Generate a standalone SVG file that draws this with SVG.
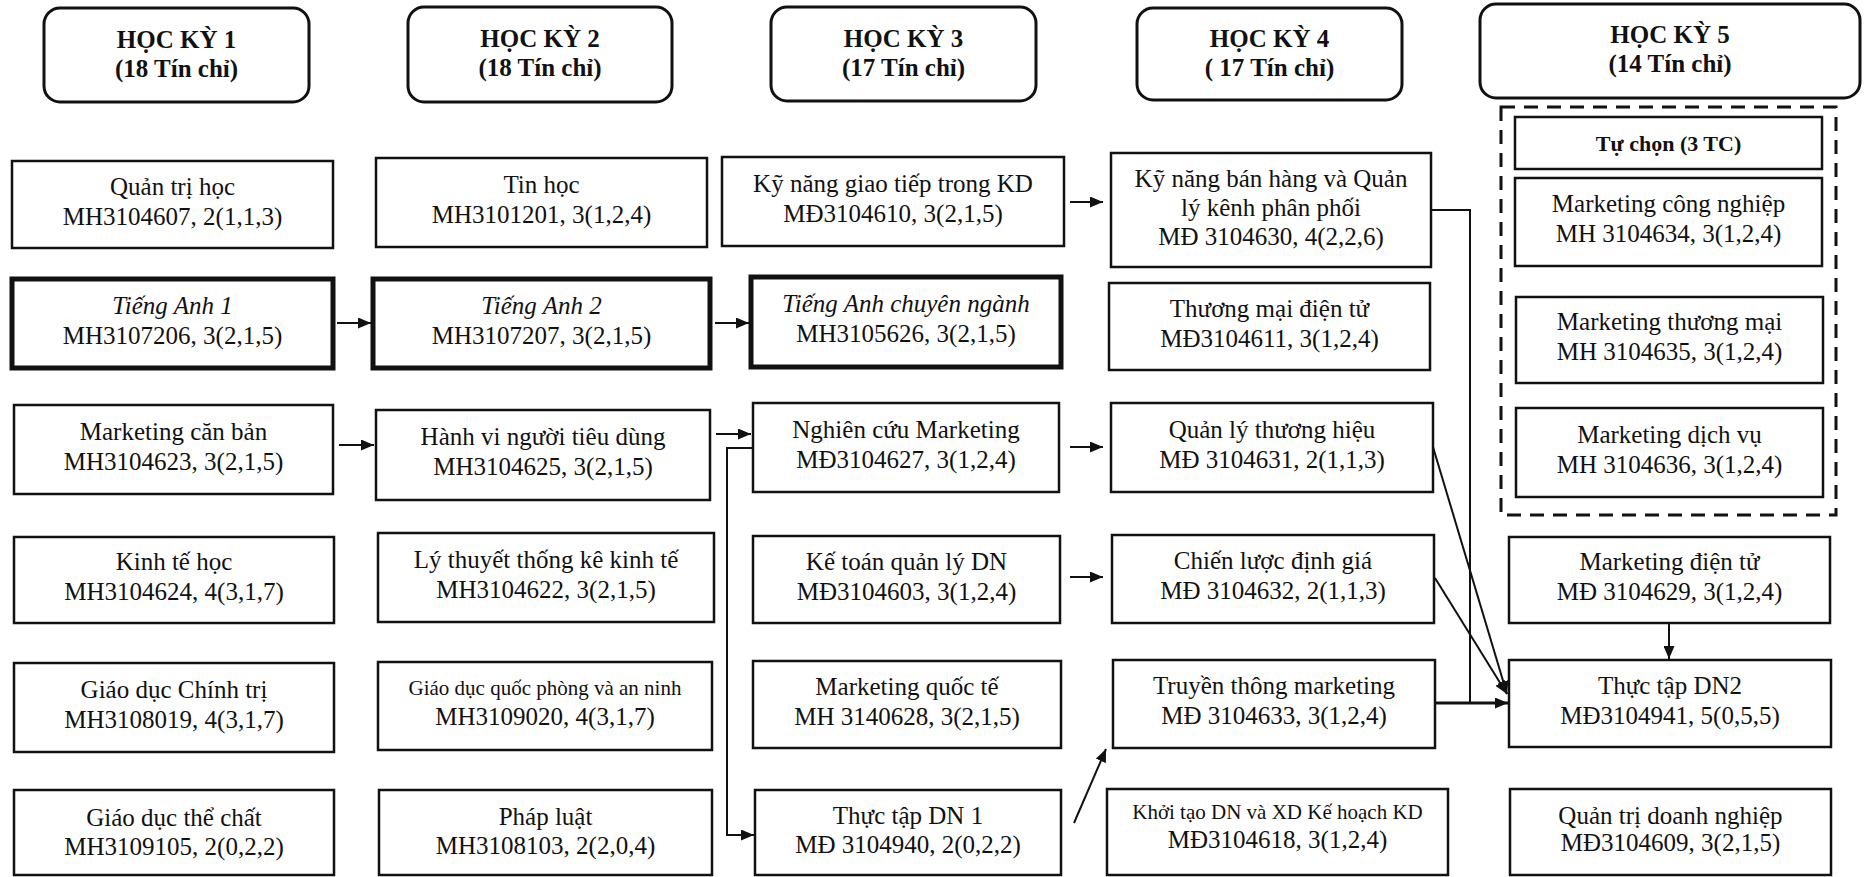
<svg xmlns="http://www.w3.org/2000/svg" width="1866" height="877" viewBox="0 0 1866 877">
<defs>
<style>
.hdr{fill:#fff;stroke:#111;stroke-width:3}
.box{fill:#fff;stroke:#111;stroke-width:2.5}
.thick{stroke-width:5}
.dash{fill:none;stroke:#111;stroke-width:3;stroke-dasharray:14 9}
.t{font-family:"Liberation Serif","Times New Roman",serif;font-size:25px;text-anchor:middle;fill:#111}
.b{font-weight:bold}
.i{font-style:italic}
.sm{font-size:21px}
.hb{font-size:22px;font-weight:bold}
.conn{stroke:#111;stroke-width:2;fill:none}
.heavy{stroke-width:3}
</style>
<marker id="ah" viewBox="0 0 13 11" refX="13" refY="5.5" markerWidth="13" markerHeight="11" markerUnits="userSpaceOnUse" orient="auto">
<path d="M0,0 L13,5.5 L0,11 z" fill="#111"/>
</marker>
</defs>
<rect x="0" y="0" width="1866" height="877" fill="#fff"/>

<g id="headers">
<g id="hk1"><rect class="hdr" x="44" y="8" width="265" height="94" rx="16"/><text class="t b" x="176.5" y="48">HỌC KỲ 1</text><text class="t b" x="176.5" y="77">(18 Tín chỉ)</text></g>
<g id="hk2"><rect class="hdr" x="408" y="7" width="264" height="95" rx="16"/><text class="t b" x="540" y="47">HỌC KỲ 2</text><text class="t b" x="540" y="76">(18 Tín chỉ)</text></g>
<g id="hk3"><rect class="hdr" x="771" y="7" width="265" height="94" rx="16"/><text class="t b" x="903.5" y="47">HỌC KỲ 3</text><text class="t b" x="903.5" y="76">(17 Tín chỉ)</text></g>
<g id="hk4"><rect class="hdr" x="1137" y="8" width="265" height="92" rx="16"/><text class="t b" x="1269.5" y="47">HỌC KỲ 4</text><text class="t b" x="1269.5" y="76">( 17 Tín chỉ)</text></g>
<g id="hk5"><rect class="hdr" x="1480" y="4" width="380" height="94" rx="16"/><text class="t b" x="1670" y="43">HỌC KỲ 5</text><text class="t b" x="1670" y="72">(14 Tín chỉ)</text></g>
</g>

<g id="col1">
<g id="quan-tri-hoc"><rect class="box" x="12" y="161" width="321" height="87"/><text class="t" x="172.5" y="194.5">Quản trị học</text><text class="t" x="172.5" y="224.5">MH3104607, 2(1,1,3)</text></g>
<g id="tieng-anh-1"><rect class="box thick" x="12" y="279" width="321" height="89"/><text class="t i" x="172.5" y="313.5">Tiếng Anh 1</text><text class="t" x="172.5" y="343.5">MH3107206, 3(2,1,5)</text></g>
<g id="marketing-can-ban"><rect class="box" x="14" y="405" width="319" height="89"/><text class="t" x="173.5" y="439.5">Marketing căn bản</text><text class="t" x="173.5" y="469.5">MH3104623, 3(2,1,5)</text></g>
<g id="kinh-te-hoc"><rect class="box" x="14" y="537" width="320" height="86"/><text class="t" x="174" y="570">Kinh tế học</text><text class="t" x="174" y="600">MH3104624, 4(3,1,7)</text></g>
<g id="gd-chinh-tri"><rect class="box" x="14" y="663" width="320" height="89"/><text class="t" x="174" y="697.5">Giáo dục Chính trị</text><text class="t" x="174" y="727.5">MH3108019, 4(3,1,7)</text></g>
<g id="gd-the-chat"><rect class="box" x="14" y="790" width="320" height="85"/><text class="t" x="174" y="826">Giáo dục thể chất</text><text class="t" x="174" y="855">MH3109105, 2(0,2,2)</text></g>
</g>

<g id="col2">
<g id="tin-hoc"><rect class="box" x="376" y="158" width="331" height="89"/><text class="t" x="541.5" y="192.5">Tin học</text><text class="t" x="541.5" y="222.5">MH3101201, 3(1,2,4)</text></g>
<g id="tieng-anh-2"><rect class="box thick" x="373" y="279" width="337" height="89"/><text class="t i" x="541.5" y="313.5">Tiếng Anh 2</text><text class="t" x="541.5" y="343.5">MH3107207, 3(2,1,5)</text></g>
<g id="hanh-vi"><rect class="box" x="376" y="410" width="334" height="90"/><text class="t" x="543" y="445">Hành vi người tiêu dùng</text><text class="t" x="543" y="475">MH3104625, 3(2,1,5)</text></g>
<g id="ly-thuyet"><rect class="box" x="378" y="533" width="336" height="89"/><text class="t" x="546" y="567.5">Lý thuyết thống kê kinh tế</text><text class="t" x="546" y="597.5">MH3104622, 3(2,1,5)</text></g>
<g id="gdqp"><rect class="box" x="378" y="662" width="334" height="88"/><text class="t sm" x="545" y="695">Giáo dục quốc phòng và an ninh</text><text class="t" x="545" y="725">MH3109020, 4(3,1,7)</text></g>
<g id="phap-luat"><rect class="box" x="379" y="790" width="333" height="85"/><text class="t" x="545.5" y="825">Pháp luật</text><text class="t" x="545.5" y="854">MH3108103, 2(2,0,4)</text></g>
</g>

<g id="col3">
<g id="ky-nang-giao-tiep"><rect class="box" x="722" y="157" width="342" height="89"/><text class="t" x="893" y="191.5">Kỹ năng giao tiếp trong KD</text><text class="t" x="893" y="221.5">MĐ3104610, 3(2,1,5)</text></g>
<g id="tieng-anh-cn"><rect class="box thick" x="751" y="277" width="310" height="90"/><text class="t i" x="906" y="312">Tiếng Anh chuyên ngành</text><text class="t" x="906" y="342">MH3105626, 3(2,1,5)</text></g>
<g id="nghien-cuu"><rect class="box" x="753" y="403" width="306" height="89"/><text class="t" x="906" y="437.5">Nghiên cứu Marketing</text><text class="t" x="906" y="467.5">MĐ3104627, 3(1,2,4)</text></g>
<g id="ke-toan"><rect class="box" x="753" y="536" width="307" height="87"/><text class="t" x="906.5" y="569.5">Kế toán quản lý DN</text><text class="t" x="906.5" y="599.5">MĐ3104603, 3(1,2,4)</text></g>
<g id="marketing-quoc-te"><rect class="box" x="753" y="661" width="308" height="87"/><text class="t" x="907" y="694.5">Marketing quốc tế</text><text class="t" x="907" y="724.5">MH 3140628, 3(2,1,5)</text></g>
<g id="thuc-tap-dn1"><rect class="box" x="755" y="790" width="306" height="85"/><text class="t" x="908" y="824">Thực tập DN 1</text><text class="t" x="908" y="853">MĐ 3104940, 2(0,2,2)</text></g>
</g>

<g id="col4">
<g id="ky-nang-ban-hang"><rect class="box" x="1111" y="153" width="320" height="114"/><text class="t" x="1271" y="187">Kỹ năng bán hàng và Quản</text><text class="t" x="1271" y="216">lý kênh phân phối</text><text class="t" x="1271" y="245">MĐ 3104630, 4(2,2,6)</text></g>
<g id="thuong-mai-dien-tu"><rect class="box" x="1109" y="283" width="321" height="87"/><text class="t" x="1269.5" y="316.5">Thương mại điện tử</text><text class="t" x="1269.5" y="346.5">MĐ3104611, 3(1,2,4)</text></g>
<g id="quan-ly-thuong-hieu"><rect class="box" x="1111" y="403" width="322" height="89"/><text class="t" x="1272" y="437.5">Quản lý thương hiệu</text><text class="t" x="1272" y="467.5">MĐ 3104631, 2(1,1,3)</text></g>
<g id="chien-luoc-dinh-gia"><rect class="box" x="1112" y="535" width="322" height="88"/><text class="t" x="1273" y="569">Chiến lược định giá</text><text class="t" x="1273" y="599">MĐ 3104632, 2(1,1,3)</text></g>
<g id="truyen-thong"><rect class="box" x="1113" y="660" width="322" height="88"/><text class="t" x="1274" y="694">Truyền thông marketing</text><text class="t" x="1274" y="724">MĐ 3104633, 3(1,2,4)</text></g>
<g id="khoi-tao"><rect class="box" x="1107" y="789" width="341" height="86"/><text class="t sm" x="1277.5" y="819">Khởi tạo DN và XD Kế hoạch KD</text><text class="t" x="1277.5" y="848">MĐ3104618, 3(1,2,4)</text></g>
</g>

<g id="col5">
<rect id="tu-chon-group" class="dash" x="1501" y="107" width="335" height="408"/>
<g id="tu-chon"><rect class="box" x="1515" y="117" width="307" height="52"/><text class="t hb" x="1668.5" y="151">Tự chọn (3 TC)</text></g>
<g id="mk-cong-nghiep"><rect class="box" x="1515" y="178" width="307" height="88"/><text class="t" x="1668.5" y="212">Marketing công nghiệp</text><text class="t" x="1668.5" y="242">MH 3104634, 3(1,2,4)</text></g>
<g id="mk-thuong-mai"><rect class="box" x="1516" y="297" width="307" height="86"/><text class="t" x="1669.5" y="330">Marketing thương mại</text><text class="t" x="1669.5" y="360">MH 3104635, 3(1,2,4)</text></g>
<g id="mk-dich-vu"><rect class="box" x="1516" y="408" width="307" height="89"/><text class="t" x="1669.5" y="442.5">Marketing dịch vụ</text><text class="t" x="1669.5" y="472.5">MH 3104636, 3(1,2,4)</text></g>
<g id="mk-dien-tu"><rect class="box" x="1509" y="537" width="321" height="86"/><text class="t" x="1669.5" y="570">Marketing điện tử</text><text class="t" x="1669.5" y="600">MĐ 3104629, 3(1,2,4)</text></g>
<g id="thuc-tap-dn2"><rect class="box" x="1509" y="660" width="322" height="87"/><text class="t" x="1670" y="693.5">Thực tập DN2</text><text class="t" x="1670" y="723.5">MĐ3104941, 5(0,5,5)</text></g>
<g id="quan-tri-dn"><rect class="box" x="1510" y="789" width="321" height="86"/><text class="t" x="1670.5" y="824">Quản trị doanh nghiệp</text><text class="t" x="1670.5" y="851">MĐ3104609, 3(2,1,5)</text></g>
</g>

<g id="connectors">
<line class="conn" x1="337" y1="323" x2="371" y2="323" marker-end="url(#ah)"/>
<line class="conn" x1="715" y1="323" x2="749" y2="323" marker-end="url(#ah)"/>
<line class="conn" x1="339" y1="445" x2="374" y2="445" marker-end="url(#ah)"/>
<line class="conn" x1="716" y1="434" x2="751" y2="434" marker-end="url(#ah)"/>
<polyline class="conn" points="753,448 727,448 727,835 754,835" marker-end="url(#ah)"/>
<line class="conn" x1="1070" y1="202" x2="1103" y2="202" marker-end="url(#ah)"/>
<line class="conn" x1="1070" y1="447" x2="1103" y2="447" marker-end="url(#ah)"/>
<line class="conn" x1="1070" y1="577" x2="1103" y2="577" marker-end="url(#ah)"/>
<line class="conn" x1="1074" y1="823" x2="1106" y2="749" marker-end="url(#ah)"/>
<polyline class="conn" points="1431,210 1470,210 1470,703"/>
<line class="conn" x1="1433" y1="447" x2="1507" y2="694" marker-end="url(#ah)"/>
<line class="conn" x1="1435" y1="578" x2="1507" y2="694" marker-end="url(#ah)"/>
<line class="conn heavy" x1="1435" y1="703" x2="1508" y2="703" marker-end="url(#ah)"/>
<line class="conn" x1="1669" y1="623" x2="1669" y2="659" marker-end="url(#ah)"/>
</g>
</svg>
